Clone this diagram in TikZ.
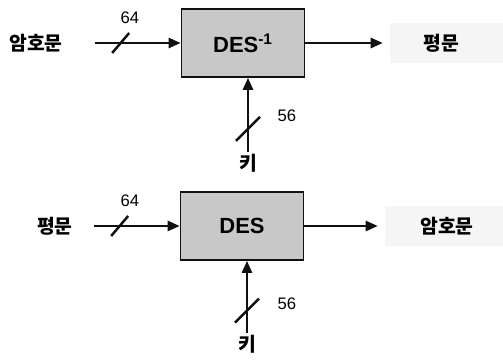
\documentclass[tikz,border=0pt]{standalone}
\usepackage{fontspec}
\setmainfont{Liberation Sans}
\newfontfamily\kr{Noto Sans CJK KR}
\usepackage{tikz}
\usetikzlibrary{arrows.meta,positioning,calc}
\definecolor{ink}{HTML}{111111}
\definecolor{stipple}{HTML}{C8C8C8}
\definecolor{haze}{HTML}{F5F5F5}

\begin{document}
\begin{tikzpicture}[
  font=\kr\bfseries\fontsize{11}{13}\selectfont,
  cipher/.style={draw=ink, fill=stipple, line width=1.1pt, minimum width=2.46cm, minimum height=1.36cm, inner sep=0pt, font=\bfseries\fontsize{12.5}{14}\selectfont},
  txt/.style={inner sep=1pt},
  outbox/.style={fill=haze, inner sep=0pt, minimum height=0.8cm},
  arrow/.style={-{Triangle[length=2.4mm,width=2.1mm]}, draw=ink, line width=0.8pt},
  slash/.style={draw=ink, line width=1.4pt},
  bits/.style={inner sep=0pt, font=\fontsize{9.5}{11}\selectfont}
]
\useasboundingbox (0,0) rectangle (10.06,7.24);

% decryption
\node[cipher] (dec) at (4.86,6.38) {DES\textsuperscript{-1}};
\node[txt] (ctin) at (0.72,6.38) {암호문};
\coordinate (inA) at (1.9,6.38);
\node[outbox, minimum width=2.26cm] (ptout) at (8.93,6.38) {\hspace*{-0.2cm}평문};
\node[txt] (keyA) at (4.96,3.98) {키};
\draw[arrow] (inA) -- (dec.west);
\draw[arrow, shorten >=1.4mm] (dec.east) -- (ptout.west);
\draw[arrow] (keyA.north) -- (keyA |- dec.south);
\draw[slash] ($(inA)!0.3!(dec.west)$) +(-0.17,-0.2) -- +(0.17,0.2);
\draw[slash] ($(keyA.north)!0.31!(keyA |- dec.south)$) +(-0.24,-0.24) -- +(0.24,0.24);
\node[bits] (wA) at (2.6,6.88) {64};
\node[bits] (kA) at (5.74,4.92) {56};

% encryption
\node[cipher] (enc) at (4.84,2.72) {DES};
\node[txt] (ptin) at (1.1,2.72) {평문};
\coordinate (inB) at (1.88,2.72);
\node[outbox, minimum width=2.36cm] (ctout) at (8.88,2.72) {\hspace*{0.12cm}암호문};
\node[txt] (keyB) at (4.94,0.36) {키};
\draw[arrow] (inB) -- (enc.west);
\draw[arrow, shorten >=1.4mm] (enc.east) -- (ctout.west);
\draw[arrow] (keyB.north) -- (keyB |- enc.south);
\draw[slash] ($(inB)!0.3!(enc.west)$) +(-0.17,-0.2) -- +(0.17,0.2);
\draw[slash] ($(keyB.north)!0.31!(keyB |- enc.south)$) +(-0.24,-0.24) -- +(0.24,0.24);
\node[bits] (wB) at (2.6,3.22) {64};
\node[bits] (kB) at (5.74,1.16) {56};
\end{tikzpicture}
\end{document}
